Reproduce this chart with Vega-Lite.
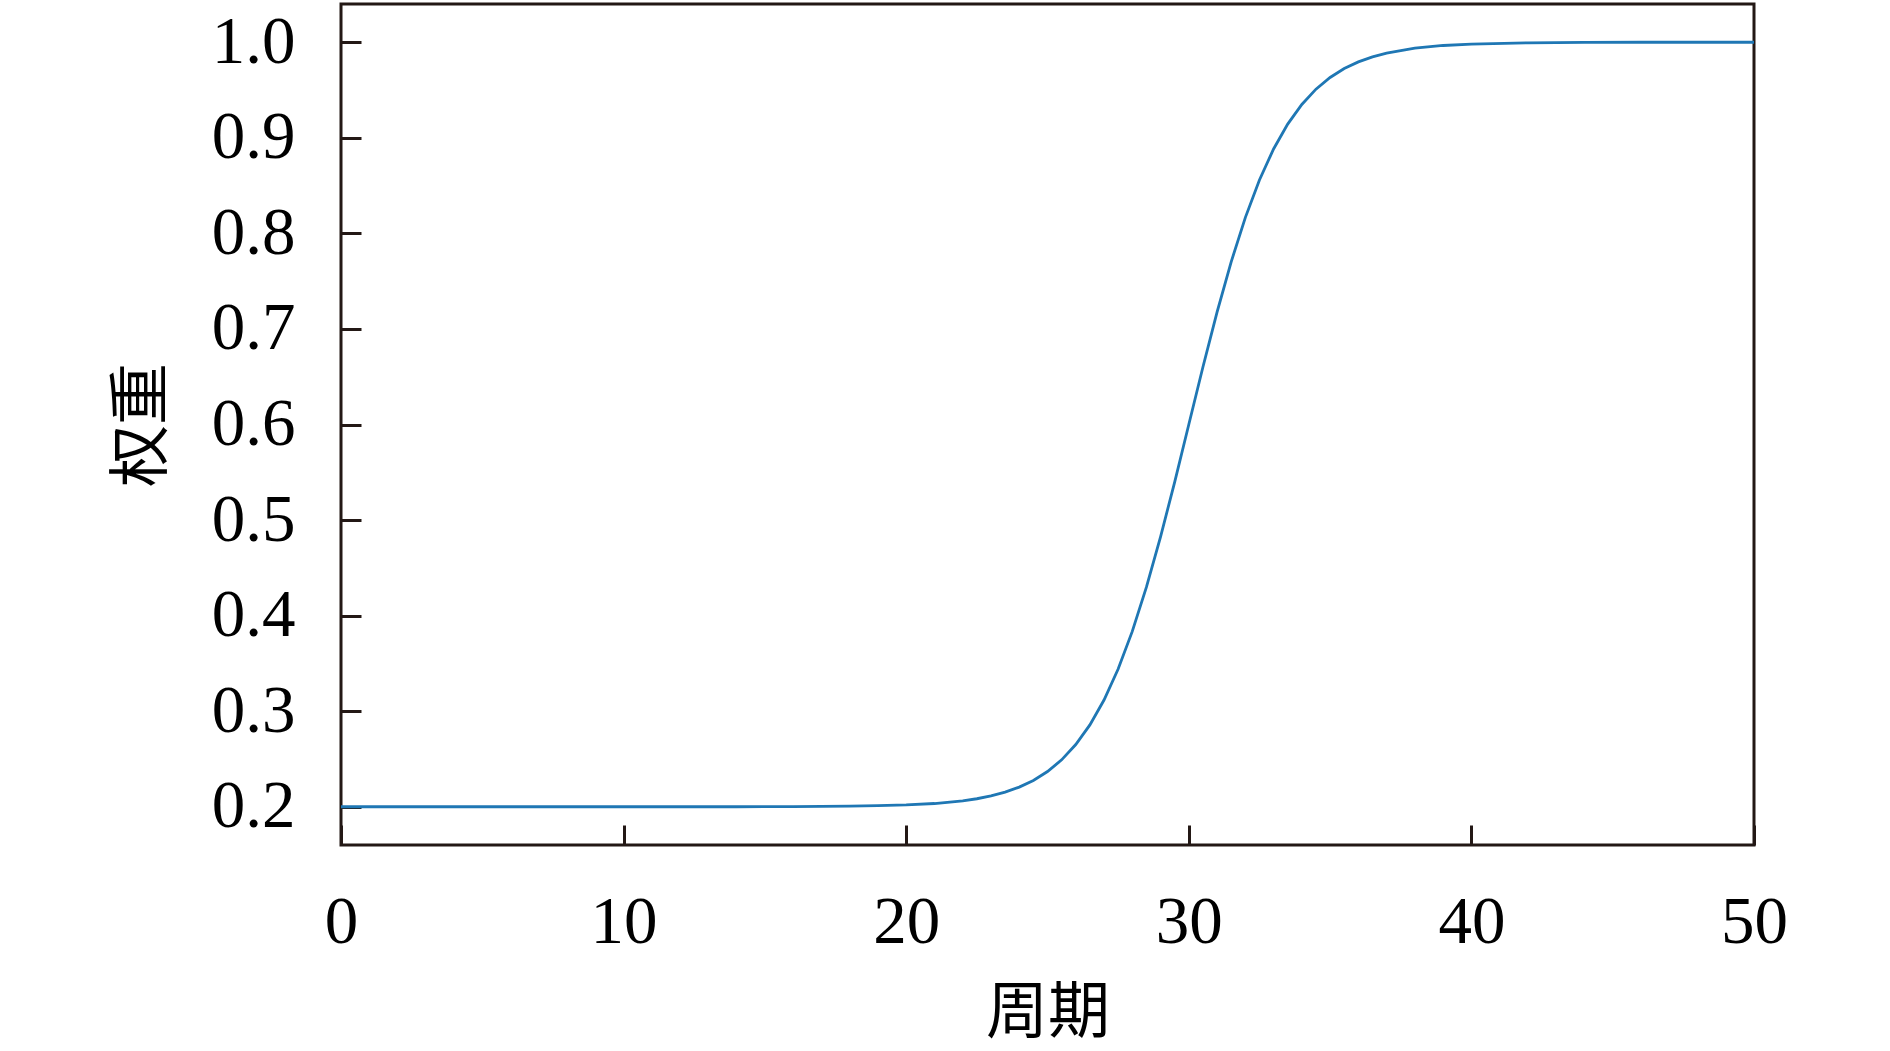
{
  "$schema": "https://vega.github.io/schema/vega-lite/v6.json",
  "width": 1413,
  "height": 841,
  "autosize": {"type": "none"},
  "padding": {"left": 341, "top": 4, "right": 136, "bottom": 206},
  "background": "white",
  "config": {
    "view": {"stroke": "#231815", "strokeWidth": 3},
    "axis": {
      "domain": false,
      "grid": false,
      "ticks": true,
      "tickColor": "#231815",
      "tickWidth": 3,
      "tickSize": -20,
      "labelFont": "Liberation Serif",
      "labelFontSize": 67,
      "labelColor": "#000000",
      "titleFont": "Noto Sans CJK SC",
      "titleFontSize": 62,
      "titleFontWeight": "normal",
      "titleColor": "#000000"
    }
  },
  "data": {
    "values": [
      {"epoch": 0, "w": 0.2},
      {"epoch": 2, "w": 0.2},
      {"epoch": 4, "w": 0.2},
      {"epoch": 6, "w": 0.2},
      {"epoch": 8, "w": 0.2},
      {"epoch": 10, "w": 0.2},
      {"epoch": 12, "w": 0.2},
      {"epoch": 14, "w": 0.2},
      {"epoch": 16, "w": 0.2002},
      {"epoch": 18, "w": 0.2006},
      {"epoch": 19, "w": 0.2011},
      {"epoch": 20, "w": 0.2019},
      {"epoch": 21, "w": 0.2034},
      {"epoch": 22, "w": 0.2062},
      {"epoch": 22.5, "w": 0.2084},
      {"epoch": 23, "w": 0.2113},
      {"epoch": 23.5, "w": 0.2153},
      {"epoch": 24, "w": 0.2206},
      {"epoch": 24.5, "w": 0.2276},
      {"epoch": 25, "w": 0.2369},
      {"epoch": 25.5, "w": 0.2491},
      {"epoch": 26, "w": 0.2651},
      {"epoch": 26.5, "w": 0.2857},
      {"epoch": 27, "w": 0.3117},
      {"epoch": 27.5, "w": 0.3441},
      {"epoch": 28, "w": 0.3835},
      {"epoch": 28.5, "w": 0.4298},
      {"epoch": 29, "w": 0.4824},
      {"epoch": 29.5, "w": 0.5398},
      {"epoch": 30, "w": 0.6},
      {"epoch": 30.5, "w": 0.6602},
      {"epoch": 31, "w": 0.7176},
      {"epoch": 31.5, "w": 0.7702},
      {"epoch": 32, "w": 0.8165},
      {"epoch": 32.5, "w": 0.8559},
      {"epoch": 33, "w": 0.8883},
      {"epoch": 33.5, "w": 0.9143},
      {"epoch": 34, "w": 0.9349},
      {"epoch": 34.5, "w": 0.9509},
      {"epoch": 35, "w": 0.9631},
      {"epoch": 35.5, "w": 0.9724},
      {"epoch": 36, "w": 0.9794},
      {"epoch": 36.5, "w": 0.9847},
      {"epoch": 37, "w": 0.9887},
      {"epoch": 38, "w": 0.9938},
      {"epoch": 39, "w": 0.9966},
      {"epoch": 40, "w": 0.9981},
      {"epoch": 42, "w": 0.9994},
      {"epoch": 44, "w": 0.9998},
      {"epoch": 46, "w": 1.0},
      {"epoch": 48, "w": 1.0},
      {"epoch": 50, "w": 1.0}
    ]
  },
  "mark": {"type": "line", "color": "#1f77b4", "strokeWidth": 2.8},
  "encoding": {
    "x": {
      "field": "epoch",
      "type": "quantitative",
      "scale": {"domain": [0, 50], "nice": false, "zero": false},
      "axis": {"values": [0, 10, 20, 30, 40, 50], "format": "d", "title": "周期", "labelPadding": 64, "titlePadding": 28, "labelFlush": false}
    },
    "y": {
      "field": "w",
      "type": "quantitative",
      "scale": {"domain": [0.16, 1.04], "nice": false, "zero": false},
      "axis": {"values": [0.2, 0.3, 0.4, 0.5, 0.6, 0.7, 0.8, 0.9, 1.0], "format": ".1f", "title": "权重", "labelPadding": 66, "titlePadding": 37, "labelFlush": false}
    }
  }
}
